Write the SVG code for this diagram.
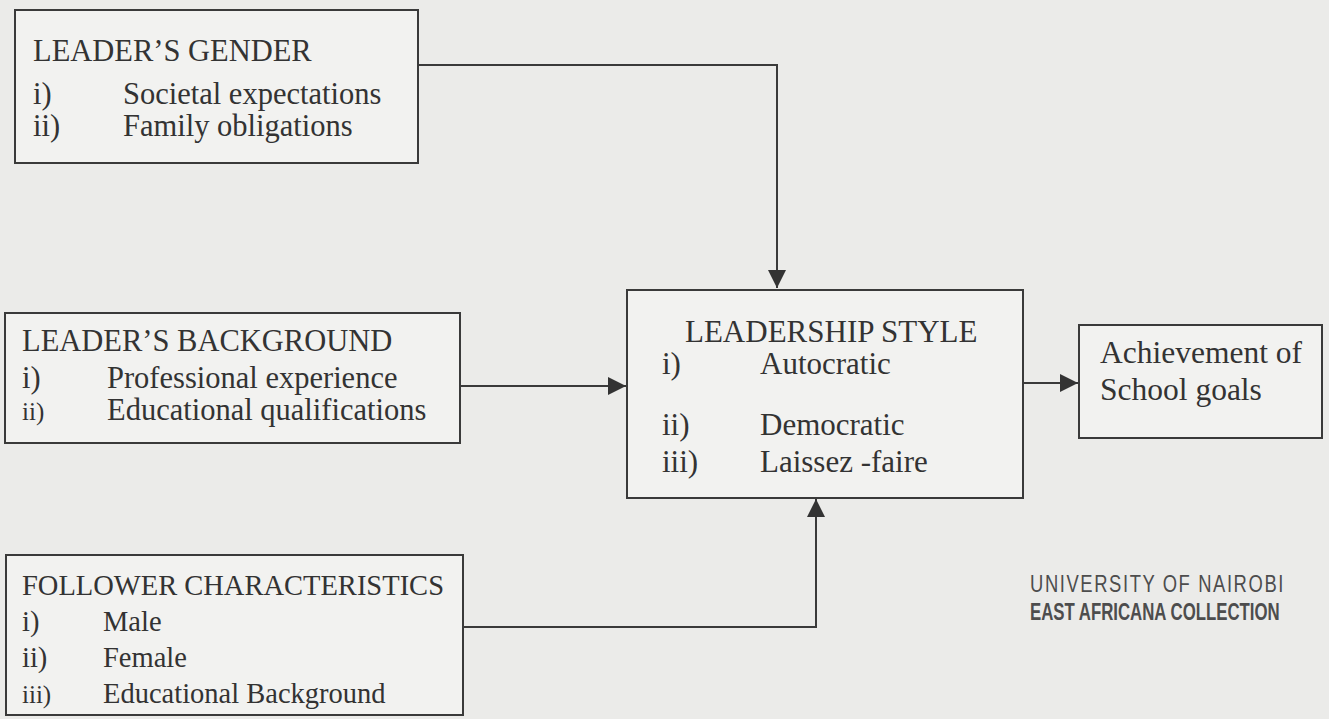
<svg xmlns="http://www.w3.org/2000/svg" width="1329" height="719" viewBox="0 0 1329 719">
<defs>
<style>
.box{fill:#f2f2f0;stroke:#3a3a3a;stroke-width:2}
.t{font-family:"Liberation Serif","Times New Roman",serif;font-size:30.5px;fill:#333}
.f{font-size:28.5px}
.m{font-size:31px}
.a{font-size:31.5px}
.s{font-size:25px}
.c{fill:none;stroke:#3a3a3a;stroke-width:2}
.stamp{font-family:"Liberation Sans","DejaVu Sans",sans-serif;fill:#4d4d4d}
</style>
<marker id="ah" viewBox="0 0 18 18" refX="18" refY="9" markerWidth="18" markerHeight="18" markerUnits="userSpaceOnUse" orient="auto">
<path d="M0,0 L18,9 L0,18 Z" fill="#333"/>
</marker>
</defs>
<rect width="1329" height="719" fill="#ebebe9"/>
<g id="connectors">
<path class="c" d="M418,65 H777 V288" marker-end="url(#ah)"/>
<path class="c" d="M460,386 H626" marker-end="url(#ah)"/>
<path class="c" d="M463,627 H816 V499" marker-end="url(#ah)"/>
<path class="c" d="M1023,383 H1078" marker-end="url(#ah)"/>
</g>
<g id="leaders-gender">
<rect class="box" x="15" y="10" width="403" height="153"/>
<text class="t" x="33" y="61">LEADER’S GENDER</text>
<text class="t" x="33" y="104">i)</text>
<text class="t" x="123" y="104">Societal expectations</text>
<text class="t" x="33" y="136">ii)</text>
<text class="t" x="123" y="136">Family obligations</text>
</g>
<g id="leaders-background">
<rect class="box" x="5" y="313" width="455" height="130"/>
<text class="t" x="22" y="351">LEADER’S BACKGROUND</text>
<text class="t" x="22" y="388">i)</text>
<text class="t" x="107" y="388">Professional experience</text>
<text class="t s" x="22" y="420">ii)</text>
<text class="t" x="107" y="420">Educational qualifications</text>
</g>
<g id="follower-characteristics">
<rect class="box" x="6" y="555" width="457" height="160"/>
<text class="t f" x="22" y="595">FOLLOWER CHARACTERISTICS</text>
<text class="t f" x="22" y="631">i)</text>
<text class="t f" x="103" y="631">Male</text>
<text class="t f" x="22" y="667">ii)</text>
<text class="t f" x="103" y="667">Female</text>
<text class="t s" x="22" y="703">iii)</text>
<text class="t f" x="103" y="703">Educational Background</text>
</g>
<g id="leadership-style">
<rect class="box" x="627" y="290" width="396" height="208"/>
<text class="t m" x="685" y="342">LEADERSHIP STYLE</text>
<text class="t m" x="662" y="374">i)</text>
<text class="t m" x="760" y="374">Autocratic</text>
<text class="t m" x="662" y="435">ii)</text>
<text class="t m" x="760" y="435">Democratic</text>
<text class="t m" x="662" y="472">iii)</text>
<text class="t m" x="760" y="472">Laissez -faire</text>
</g>
<g id="achievement">
<rect class="box" x="1079" y="325" width="243" height="113"/>
<text class="t a" x="1100" y="363">Achievement of</text>
<text class="t a" x="1100" y="400">School goals</text>
</g>
<g id="stamp">
<text class="stamp" transform="translate(1030,592) scale(0.8,1)" x="0" y="0" font-size="23" letter-spacing="2">UNIVERSITY OF NAIROBI</text>
<text class="stamp" transform="translate(1030,620) scale(0.7,1)" x="0" y="0" font-size="24" font-weight="bold">EAST AFRICANA COLLECTION</text>
</g>
</svg>
